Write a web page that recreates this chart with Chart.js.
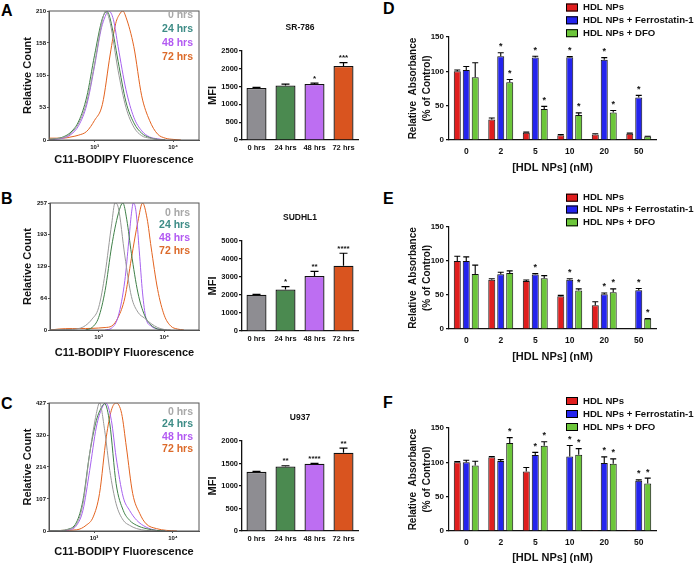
<!DOCTYPE html>
<html lang="en">
<head>
<meta charset="UTF-8">
<title>C11-BODIPY / HDL NPs</title>
<script src="https://cdn.jsdelivr.net/npm/chart.js"></script>
<style>
body { margin: 0; background: #fff; width: 697px; height: 565px; position: relative; overflow: hidden; font-family: "Liberation Sans", Arial, sans-serif; }
canvas { position: absolute; }
.tag { position: absolute; font-weight: bold; font-size: 16px; line-height: 16px; color: #000; }
</style>
</head>
<body>
<div class="tag" style="left:1px;top:3px">A</div>
<div class="tag" style="left:1px;top:191px">B</div>
<div class="tag" style="left:1px;top:396px">C</div>
<div class="tag" style="left:383px;top:1px">D</div>
<div class="tag" style="left:383px;top:191px">E</div>
<div class="tag" style="left:383px;top:395px">F</div>

<canvas id="histA" width="205" height="172" style="left:0;top:0"></canvas>
<canvas id="histB" width="205" height="185" style="left:0;top:180px"></canvas>
<canvas id="histC" width="205" height="194" style="left:0;top:370px"></canvas>
<canvas id="mfiA" width="165" height="172" style="left:200px;top:0"></canvas>
<canvas id="mfiB" width="165" height="185" style="left:200px;top:180px"></canvas>
<canvas id="mfiC" width="165" height="194" style="left:200px;top:370px"></canvas>
<canvas id="hdlD" width="322" height="180" style="left:375px;top:0"></canvas>
<canvas id="hdlE" width="322" height="180" style="left:375px;top:185px"></canvas>
<canvas id="hdlF" width="322" height="190" style="left:375px;top:375px"></canvas>

<script>
// ---- histogram data: [log10 fluorescence, count] ----
const hrsLabels = ['0 hrs', '24 hrs', '48 hrs', '72 hrs'];
const histLineColors = ['#9a9a9a', '#3f8048', '#a762ef', '#e3631f'];
const hrsTextColors = ['#a8a8a8', '#3d8c86', '#b25af2', '#dc6a2a'];

const aGray = [[2.42,1],[2.5,2],[2.6,4],[2.7,11],[2.8,28],[2.9,62],[3.0,124],[3.1,195],[3.14,210],[3.2,190],[3.3,113],[3.4,53],[3.5,21],[3.6,7],[3.7,3],[3.8,1],[3.9,0]];
const aGreen = [[2.42,1],[2.5,2],[2.6,5],[2.7,13],[2.8,31],[2.9,70],[3.0,138],[3.1,198],[3.16,209],[3.2,197],[3.3,128],[3.4,62],[3.5,28],[3.6,11],[3.7,4],[3.8,1],[3.9,0]];
const aPurple = [[2.42,0],[2.5,1],[2.6,3],[2.7,9],[2.8,24],[2.9,57],[3.0,120],[3.08,178],[3.12,196],[3.18,210],[3.24,196],[3.3,152],[3.4,82],[3.5,37],[3.6,15],[3.7,5],[3.8,2],[3.9,0]];
const aOrange = [[2.42,3],[2.6,3],[2.7,5],[2.8,8],[2.9,14],[3.0,32],[3.1,58],[3.2,140],[3.27,190],[3.32,205],[3.36,210],[3.4,200],[3.5,152],[3.6,72],[3.7,32],[3.8,10],[3.9,3],[4.0,1],[4.1,0]];

const bGray = [[2.26,0],[2.5,1],[2.7,3],[2.8,9],[2.9,22],[3.0,45],[3.1,115],[3.2,215],[3.25,257],[3.3,248],[3.4,150],[3.5,68],[3.6,36],[3.7,24],[3.8,13],[3.9,5],[4.0,1],[4.1,0]];
const bGreen = [[2.8,0],[2.9,5],[3.0,25],[3.1,80],[3.2,170],[3.3,235],[3.37,257],[3.43,223],[3.5,155],[3.6,75],[3.7,30],[3.8,10],[3.9,2],[4.0,0]];
const bPurple = [[3.1,0],[3.2,4],[3.3,28],[3.4,100],[3.46,180],[3.5,235],[3.53,257],[3.57,240],[3.62,160],[3.67,75],[3.72,25],[3.8,8],[3.9,2],[4.0,0]];
const bOrange = [[2.26,0],[2.4,2],[2.6,3],[2.8,3],[3.0,4],[3.1,5],[3.2,8],[3.3,26],[3.4,65],[3.5,145],[3.6,220],[3.67,257],[3.74,225],[3.8,168],[3.9,82],[4.0,30],[4.1,8],[4.2,2],[4.3,0]];

const cGray = [[2.43,0],[2.6,2],[2.65,4],[2.78,24],[2.86,91],[2.945,258],[3.03,392],[3.07,427],[3.135,336],[3.2,202],[3.28,91],[3.37,36],[3.45,19],[3.54,8],[3.66,2],[3.8,0]];
const cGreen = [[2.43,0],[2.6,2],[2.65,4],[2.78,30],[2.86,102],[2.945,258],[3.03,369],[3.1,415],[3.135,425],[3.2,358],[3.28,158],[3.37,69],[3.45,36],[3.54,19],[3.66,8],[3.79,2],[3.9,0]];
const cPurple = [[2.43,0],[2.69,4],[2.78,19],[2.86,69],[2.945,202],[3.03,347],[3.1,410],[3.15,427],[3.22,369],[3.28,247],[3.37,113],[3.45,69],[3.54,36],[3.66,13],[3.79,2],[3.9,0]];
const cOrange = [[2.43,0],[2.6,2],[2.78,4],[2.9,19],[2.99,47],[3.07,125],[3.156,314],[3.22,403],[3.28,427],[3.35,392],[3.41,280],[3.49,125],[3.58,58],[3.66,24],[3.79,8],[3.92,2],[4.05,0]];

const aCountTicks = [0, 53, 105, 158, 210];
const bCountTicks = [0, 64, 129, 193, 257];
const cCountTicks = [0, 107, 214, 320, 427];

// ---- MFI bars ----
const mfiLabels = ['0 hrs', '24 hrs', '48 hrs', '72 hrs'];
const mfiColors = ['#8e8d92', '#4b8a50', '#bd6ef2', '#d9541f'];
const srMfi = [1460, 1530, 1575, 2080];
const srErr = [20, 40, 25, 95];
const srStars = ['', '', '*', '***'];
const sudMfi = [2010, 2310, 3060, 3630];
const sudErr = [25, 150, 250, 690];
const sudStars = ['', '*', '**', '****'];
const uMfi = [1315, 1435, 1495, 1740];
const uErr = [8, 15, 8, 100];
const uStars = ['', '**', '****', '**'];

// ---- HDL NP viability ----
const doseLabels = ['0', '2', '5', '10', '20', '50'];
const seriesNames = ['HDL NPs', 'HDL NPs + Ferrostatin-1', 'HDL NPs + DFO'];
const hdlColors = ['#e01e1e', '#2424ee', '#6cc63a'];

const dRed = [100, 30, 10.5, 7, 8, 9];
const dRedErr = [2, 2, 1, 1, 1, 1];
const dBlue = [102, 122, 120, 120.5, 117, 62];
const dBlueErr = [5, 5, 2, 1, 3, 3];
const dGreen = [91.5, 84, 45, 36.5, 40, 5];
const dGreenErr = [21, 4, 4, 3, 3, 0.5];
const dBlueStars = ['', '*', '*', '*', '*', '*'];
const dGreenStars = ['', '*', '*', '*', '*', ''];

const eRed = [100, 72.5, 70.5, 48, 35, null];
const eRedErr = [7, 1.5, 1.5, 1.5, 5, 0];
const eBlue = [100, 80.5, 80, 72.5, 51, 57];
const eBlueErr = [6, 3, 1.5, 1.5, 2, 2.5];
const eGreen = [81, 82.5, 74.5, 56.5, 54, 15];
const eGreenErr = [13, 3, 4, 2.5, 5, 0.5];
const eBlueStars = ['', '', '*', '*', '*', '*'];
const eGreenStars = ['', '', '', '*', '*', '*'];

const fRed = [100, 107.5, 86.5, 0.8, 1.5, 1.5];
const fRedErr = [1, 1, 6, 0, 0, 0];
const fBlue = [100, 102, 110.5, 108.5, 99, 73];
const fBlueErr = [3, 2, 4, 16, 9, 1.5];
const fGreen = [95.5, 128, 124, 111, 98, 69];
const fGreenErr = [6, 8, 6, 9, 7, 8];
const fBlueStars = ['', '', '*', '*', '*', '*'];
const fGreenStars = ['', '*', '*', '*', '*', '*'];

Chart.defaults.font.family = '"Liberation Sans", Arial, sans-serif';
Chart.defaults.font.weight = 'bold';
Chart.defaults.color = '#111';
Chart.defaults.animation = false;

const FONT = '"Liberation Sans", Arial, sans-serif';

const boxFrame = {
    id: 'boxFrame',
    afterDraw(chart) {
        const a = chart.chartArea, c = chart.ctx;
        c.save();
        c.strokeStyle = '#555';
        c.lineWidth = 1;
        c.strokeRect(a.left, a.top, a.right - a.left, a.bottom - a.top);
        c.restore();
    }
};

// free text / legend items drawn on the canvas
const extraText = {
    id: 'extraText',
    afterDraw(chart, args, opts) {
        const c = chart.ctx;
        c.save();
        (opts.items || []).forEach(t => {
            if (t.box) {
                c.fillStyle = t.box;
                c.fillRect(t.bx, t.y - 4, 12, 8);
                c.strokeStyle = '#000';
                c.lineWidth = 1;
                c.strokeRect(t.bx + 0.5, t.y - 3.5, 11, 7);
            }
            c.fillStyle = t.color || '#111';
            c.font = 'bold ' + t.size + 'px ' + FONT;
            c.textAlign = t.align || 'left';
            c.textBaseline = 'middle';
            c.fillText(t.text, t.x, t.y);
        });
        c.restore();
    }
};

const barExtras = {
    id: 'barExtras',
    afterDatasetsDraw(chart, args, opts) {
        const c = chart.ctx, y = chart.scales.y;
        chart.data.datasets.forEach((ds, i) => {
            const meta = chart.getDatasetMeta(i);
            meta.data.forEach((bar, j) => {
                const v = ds.data[j];
                if (v == null) return;
                const e = ds.errors ? ds.errors[j] : 0;
                const top = y.getPixelForValue(v + e);
                c.save();
                c.strokeStyle = '#000';
                c.lineWidth = opts.lw;
                if (e > 0) {
                    c.beginPath();
                    c.moveTo(bar.x, bar.y);
                    c.lineTo(bar.x, top);
                    c.moveTo(bar.x - opts.cap / 2, top);
                    c.lineTo(bar.x + opts.cap / 2, top);
                    c.stroke();
                }
                const s = ds.stars ? ds.stars[j] : '';
                if (s) {
                    c.fillStyle = '#111';
                    c.font = 'bold ' + opts.starSize + 'px ' + FONT;
                    c.textAlign = 'center';
                    c.textBaseline = 'alphabetic';
                    c.fillText(s, bar.x, top - opts.starGap);
                }
                c.restore();
            });
        });
    }
};

function histChart(id, curves, xMin, xMax, countTicks, g) {
    const items = hrsLabels.map((h, i) => ({ text: h, x: g.legX, y: g.legY[i], color: hrsTextColors[i], size: 10.5, align: 'right' }));
    new Chart(document.getElementById(id), {
        type: 'line',
        data: {
            datasets: curves.map((cv, i) => ({
                label: hrsLabels[i],
                data: cv.map(p => ({ x: p[0], y: p[1] })),
                borderColor: histLineColors[i],
                borderWidth: 1,
                pointRadius: 0,
                cubicInterpolationMode: 'monotone',
                fill: false
            }))
        },
        options: {
            responsive: false,
            layout: { padding: { top: g.top, right: 6, left: 0, bottom: 0 } },
            plugins: { legend: { display: false }, tooltip: { enabled: false }, extraText: { items } },
            scales: {
                x: {
                    type: 'linear', min: xMin, max: xMax,
                    afterBuildTicks: s => { s.ticks = [{ value: 3 }, { value: 4 }]; },
                    afterFit: s => { s.height = g.xh; },
                    ticks: { callback: v => v === 3 ? '10³' : '10⁴', font: { size: 6 }, padding: 2, autoSkip: false, maxRotation: 0 },
                    grid: { drawOnChartArea: false, tickLength: 2, color: '#555' },
                    border: { color: '#555' },
                    title: { display: true, text: 'C11-BODIPY Fluorescence', font: { size: 11 }, padding: { top: 0, bottom: 5 } }
                },
                y: {
                    min: 0, max: countTicks[countTicks.length - 1],
                    afterBuildTicks: s => { s.ticks = countTicks.map(v => ({ value: v })); },
                    afterFit: s => { s.width = g.yw; },
                    ticks: { font: { size: 6 }, padding: 1, autoSkip: false },
                    grid: { drawOnChartArea: false, tickLength: 2, color: '#555' },
                    border: { color: '#555' },
                    title: { display: true, text: 'Relative Count', font: { size: 11 }, padding: { top: 21, bottom: 0 } }
                }
            }
        },
        plugins: [boxFrame, extraText]
    });
}

function mfiChart(id, title, vals, errs, stars, yMax, yStep, g) {
    new Chart(document.getElementById(id), {
        type: 'bar',
        data: {
            labels: mfiLabels,
            datasets: [{
                data: vals, errors: errs, stars: stars,
                backgroundColor: mfiColors, borderColor: '#111', borderWidth: 1.3,
                barPercentage: 0.69, categoryPercentage: 1
            }]
        },
        options: {
            responsive: false,
            layout: { padding: { top: g.top, right: 7, left: 0, bottom: 0 } },
            plugins: {
                legend: { display: false }, tooltip: { enabled: false },
                extraText: { items: [{ text: title, x: 100, y: g.titleY, size: 8.5, align: 'center' }] },
                barExtras: { cap: 8, lw: 1.2, starSize: 8, starGap: 2.5 }
            },
            scales: {
                x: {
                    afterFit: s => { s.height = g.xh; },
                    ticks: { font: { size: 7.5 }, padding: 3, maxRotation: 0, autoSkip: false },
                    grid: { display: false, drawTicks: false, tickLength: 0 },
                    border: { color: '#111', width: 1.3 }
                },
                y: {
                    min: 0, max: yMax,
                    afterFit: s => { s.width = 42; },
                    ticks: { stepSize: yStep, font: { size: 7.5 }, padding: 1, callback: v => String(v) },
                    grid: { drawOnChartArea: false, tickLength: 3, color: '#111', lineWidth: 1.2 },
                    border: { color: '#111', width: 1.3 },
                    title: { display: true, text: 'MFI', font: { size: 11 }, padding: { top: 6, bottom: 0 } }
                }
            }
        },
        plugins: [barExtras, extraText]
    });
}

function hdlChart(id, vals, errs, stars, g) {
    const items = seriesNames.map((n, i) => ({ text: n, x: 208, y: g.legY[i], size: 9.6, box: hdlColors[i], bx: 191 }));
    new Chart(document.getElementById(id), {
        type: 'bar',
        data: {
            labels: doseLabels,
            datasets: seriesNames.map((n, i) => ({
                label: n, data: vals[i], errors: errs[i], stars: stars[i],
                backgroundColor: hdlColors[i], borderColor: '#111', borderWidth: 1,
                barPercentage: 0.78, categoryPercentage: 0.78
            }))
        },
        options: {
            responsive: false,
            layout: { padding: { top: g.top, right: 41, left: 0, bottom: 0 } },
            plugins: {
                legend: { display: false }, tooltip: { enabled: false },
                extraText: { items },
                barExtras: { cap: 6, lw: 1.1, starSize: 9, starGap: 3.5 }
            },
            scales: {
                x: {
                    afterFit: s => { s.height = g.xh; },
                    ticks: { font: { size: 8.5 }, padding: g.tickPad, maxRotation: 0, autoSkip: false },
                    grid: { display: false, drawTicks: false, tickLength: 0 },
                    border: { color: '#111', width: 1.2 },
                    title: { display: true, text: '[HDL NPs] (nM)', font: { size: 11 }, padding: { top: 0, bottom: g.titlePad } }
                },
                y: {
                    min: 0, max: 150,
                    afterFit: s => { s.width = 74; },
                    ticks: { stepSize: 50, font: { size: 8 }, padding: 2 },
                    grid: { drawOnChartArea: false, tickLength: 3, color: '#111', lineWidth: 1.2 },
                    border: { color: '#111', width: 1.2 },
                    title: { display: true, text: ['Relative  Absorbance', '(% of Control)'], font: { size: 10, lineHeight: 1.4 }, padding: { top: 31, bottom: 0 } }
                }
            }
        },
        plugins: [barExtras, extraText]
    });
}

histChart('histA', [aGray, aGreen, aPurple, aOrange], 2.42, 4.33, aCountTicks, { top: 11, xh: 32, yw: 49, legX: 193, legY: [15, 29, 43, 57] });
histChart('histB', [bGray, bGreen, bPurple, bOrange], 2.26, 4.53, bCountTicks, { top: 23, xh: 35, yw: 50, legX: 190, legY: [32.7, 45.3, 58.3, 71] });
histChart('histC', [cGray, cGreen, cPurple, cOrange], 2.43, 4.33, cCountTicks, { top: 33, xh: 33, yw: 49, legX: 193, legY: [41.7, 54.3, 66.9, 79.5] });

mfiChart('mfiA', 'SR-786', srMfi, srErr, srStars, 2500, 500, { top: 51, xh: 32, titleY: 28 });
mfiChart('mfiB', 'SUDHL1', sudMfi, sudErr, sudStars, 5000, 1000, { top: 61, xh: 34, titleY: 38 });
mfiChart('mfiC', 'U937', uMfi, uErr, uStars, 2000, 500, { top: 71, xh: 33, titleY: 48 });

hdlChart('hdlD', [dRed, dBlue, dGreen], [dRedErr, dBlueErr, dGreenErr], [[], dBlueStars, dGreenStars], { top: 37, xh: 40, tickPad: 7, titlePad: 5, legY: [7.5, 20.3, 33.2] });
hdlChart('hdlE', [eRed, eBlue, eGreen], [eRedErr, eBlueErr, eGreenErr], [[], eBlueStars, eGreenStars], { top: 42, xh: 36, tickPad: 7, titlePad: 1.5, legY: [12.7, 24.5, 37.3] });
hdlChart('hdlF', [fRed, fBlue, fGreen], [fRedErr, fBlueErr, fGreenErr], [[], fBlueStars, fGreenStars], { top: 53, xh: 34, tickPad: 7, titlePad: 0.5, legY: [26, 39, 52] });
</script>
</body>
</html>
